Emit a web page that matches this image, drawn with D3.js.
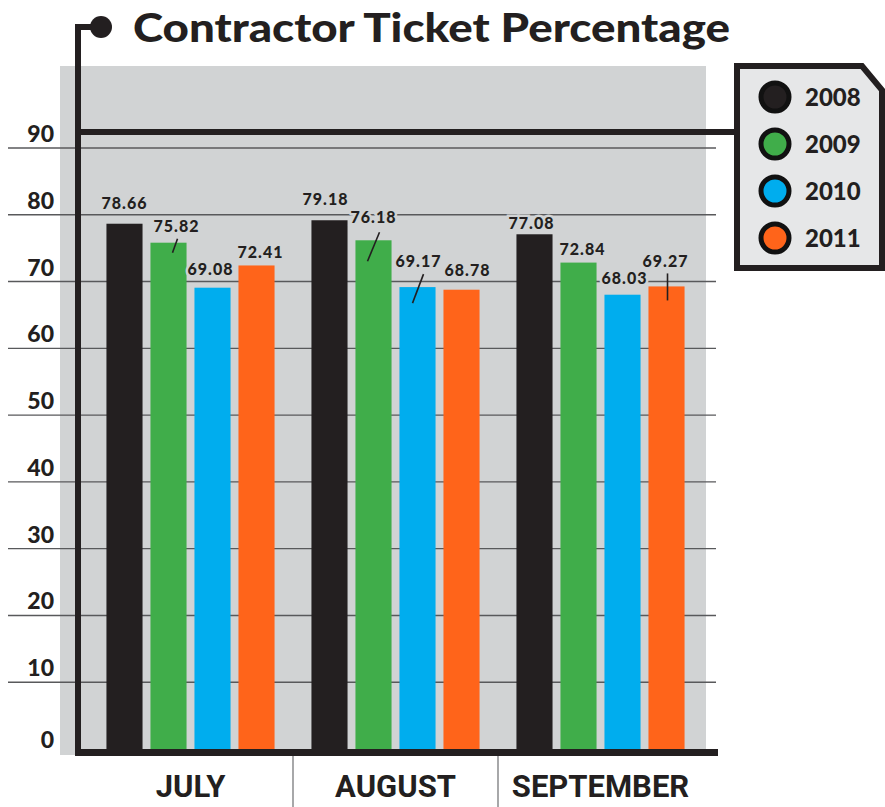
<!DOCTYPE html>
<html><head><meta charset="utf-8">
<script src="https://cdn.jsdelivr.net/npm/d3@7"></script>
<style>
html,body{margin:0;padding:0;background:#fff;}
svg{display:block;}
</style></head>
<body>
<svg id="chart" width="885" height="807"></svg>
<script>
// ---- data ----
const months = ["JULY", "AUGUST", "SEPTEMBER"];
const years = ["2008", "2009", "2010", "2011"];
const values2008 = [78.66, 79.18, 77.08];
const values2009 = [75.82, 76.18, 72.84];
const values2010 = [69.08, 69.17, 68.03];
const values2011 = [72.41, 68.78, 69.27];
const tickValues = [0, 10, 20, 30, 40, 50, 60, 70, 80, 90];
const titleText = "Contractor Ticket Percentage";

// ---- layout (not data) ----
const colors = {"2008": "#231f20", "2009": "#40ad4a", "2010": "#00adee", "2011": "#ff641a"};
const ink = "#231f20";
const bgGray = "#d1d3d4";
// per-label nudges [dx, dy] relative to bar centre/top, and leader lines [x1,y1,x2,y2]
const labelNudge = {
  "JULY-2008": [0, -15], "JULY-2009": [8, -11], "JULY-2010": [-2, -13], "JULY-2011": [4, -7],
  "AUGUST-2008": [-4, -15], "AUGUST-2009": [0, -17], "AUGUST-2010": [1, -20], "AUGUST-2011": [6, -14],
  "SEPTEMBER-2008": [-3, -5], "SEPTEMBER-2009": [4, -8], "SEPTEMBER-2010": [2, -11], "SEPTEMBER-2011": [-1, -19]
};
const leaders = {
  "JULY-2009": [9, -4, 4, 10],
  "AUGUST-2009": [6, -8, -6, 21],
  "AUGUST-2010": [6, -13, -5, 16],
  "SEPTEMBER-2011": [1, -13, 1, 14]
};

const seriesByYear = {"2008": values2008, "2009": values2009, "2010": values2010, "2011": values2011};
const rows = [];
months.forEach((m, i) => years.forEach(yr => rows.push({month: m, year: yr, value: seriesByYear[yr][i]})));

const svg = d3.select("#chart");
const font = "'Lato', 'DejaVu Sans', sans-serif";

const x0 = d3.scaleBand().domain(months).range([88, 703]).paddingInner(0.18).paddingOuter(0.09);
const x1 = d3.scaleBand().domain(years).range([0, x0.bandwidth()]).paddingInner(0.18).paddingOuter(0);
const y = d3.scaleLinear().domain([0, 90]).range([749, 148]);

// gray plot background
svg.append("rect").attr("x", 60).attr("y", 66).attr("width", 646).attr("height", 689).attr("fill", bgGray);

// gridlines
svg.append("g").selectAll("line").data(tickValues.filter(v => v > 0)).join("line")
  .attr("x1", 8).attr("x2", 716)
  .attr("y1", d => y(d)).attr("y2", d => y(d))
  .attr("stroke", "#58595b").attr("stroke-width", 1.4);

// tick labels
svg.append("g").selectAll("text").data(tickValues).join("text")
  .attr("x", 54).attr("y", d => d === 0 ? y(d) - 1 : y(d) - 6)
  .attr("text-anchor", "end")
  .attr("font-family", font).attr("font-weight", 900).attr("font-size", 23)
  .attr("fill", ink).text(d => d);

// bars
const groups = svg.append("g").selectAll("g").data(months).join("g")
  .attr("transform", m => `translate(${x0(m)},0)`);
groups.selectAll("rect").data(m => rows.filter(r => r.month === m)).join("rect")
  .attr("x", d => x1(d.year)).attr("width", x1.bandwidth())
  .attr("y", d => y(d.value)).attr("height", d => y(0) - y(d.value))
  .attr("fill", d => colors[d.year]);

// value labels
const labG = svg.append("g");
labG.selectAll("text").data(rows).join("text")
  .attr("x", d => x0(d.month) + x1(d.year) + x1.bandwidth() / 2 + labelNudge[d.month + "-" + d.year][0])
  .attr("y", d => y(d.value) + labelNudge[d.month + "-" + d.year][1])
  .attr("text-anchor", "middle")
  .attr("font-family", font).attr("font-weight", 900).attr("font-size", 16)
  .attr("letter-spacing", 1)
  .attr("fill", ink)
  .attr("stroke", bgGray).attr("stroke-width", 5).attr("paint-order", "stroke")
  .text(d => d.value.toFixed(2));
labG.selectAll("line").data(rows.filter(d => leaders[d.month + "-" + d.year])).join("line")
  .each(function(d) {
    const L = leaders[d.month + "-" + d.year];
    const cx = x0(d.month) + x1(d.year) + x1.bandwidth() / 2, ty = y(d.value);
    d3.select(this).attr("x1", cx + L[0]).attr("y1", ty + L[1]).attr("x2", cx + L[2]).attr("y2", ty + L[3]);
  })
  .attr("stroke", ink).attr("stroke-width", 1.6);

// axes (thick black)
svg.append("line").attr("x1", 75).attr("x2", 718).attr("y1", y(0) + 3.5).attr("y2", y(0) + 3.5)
  .attr("stroke", ink).attr("stroke-width", 7);
svg.append("path").attr("d", `M78,${y(0) + 7} V27 H100`).attr("fill", "none")
  .attr("stroke", ink).attr("stroke-width", 6);
svg.append("circle").attr("cx", 101).attr("cy", 27).attr("r", 11).attr("fill", ink);

// legend connector
svg.append("line").attr("x1", 78).attr("x2", 740).attr("y1", 132).attr("y2", 132)
  .attr("stroke", ink).attr("stroke-width", 6);

// category separators
const seps = months.slice(1).map(m => x0(m) - x0.step() * x0.paddingInner() / 2);
svg.append("g").selectAll("line").data(seps).join("line")
  .attr("x1", d => d).attr("x2", d => d).attr("y1", 756).attr("y2", 807)
  .attr("stroke", "#6d6e71").attr("stroke-width", 1.2);

// month labels
svg.append("g").selectAll("text").data(months).join("text")
  .attr("x", m => x0(m) + x0.bandwidth() / 2).attr("y", 797)
  .attr("text-anchor", "middle")
  .attr("font-family", "'Liberation Sans Narrow', 'Roboto', sans-serif").attr("font-weight", 700)
  .attr("font-size", 31).attr("fill", ink).text(m => m);

// title
svg.append("text").attr("x", 133).attr("y", 42)
  .attr("font-family", font).attr("font-weight", 900).attr("font-size", 40)
  .attr("textLength", 597).attr("lengthAdjust", "spacingAndGlyphs")
  .attr("fill", ink).text(titleText);

// legend
svg.append("path").attr("d", "M737,66 H862 L882,90 V268 H737 Z")
  .attr("fill", "#e6e7e8").attr("stroke", ink).attr("stroke-width", 6).attr("stroke-linejoin", "miter");
const legY = d3.scalePoint().domain(years).range([97, 238]);
const leg = svg.append("g").selectAll("g").data(years).join("g")
  .attr("transform", d => `translate(775,${legY(d)})`);
leg.append("circle").attr("r", 14).attr("fill", d => colors[d]).attr("stroke", "#111").attr("stroke-width", 5);
leg.append("text").attr("x", 30).attr("y", 9)
  .attr("font-family", font).attr("font-weight", 900).attr("font-size", 24)
  .attr("fill", ink).text(d => d);
</script>
</body></html>
